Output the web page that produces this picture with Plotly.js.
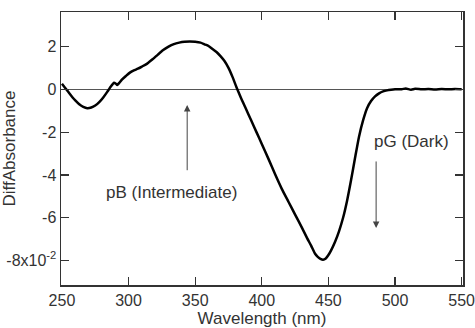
<!DOCTYPE html>
<html>
<head>
<meta charset="utf-8">
<script src="https://cdn.plot.ly/plotly-3.0.1.min.js"></script>
<style>html,body{margin:0;padding:0;background:#fff;}#chart{width:475px;height:328px;}</style>
</head>
<body>
<div id="chart"></div>
<script>
// Wavelength (nm)
const wavelength = [250,252,255,258,260,263,266,269,272,275,278,281,284,285.5,287,289,290.5,291.5,293,295,298,301,304,307,310,314,318,322,326,330,334,338,342,346,350,354,357,360,363,366,369,372,375,378,381,384,388,392,396,400,405,410,415,420,425,430,434,437,440,442,444,446,448,450,452,455,458,461,464,467,470,473,476,479,482,485,488,491,494,497,500,505,508,512,515,520,525,530,535,540,545,550];
// Difference absorbance (x10^-2)
const diffAbs = [0.26,0.1,-0.14,-0.38,-0.52,-0.7,-0.82,-0.88,-0.85,-0.76,-0.6,-0.38,-0.12,0.02,0.15,0.31,0.26,0.2,0.3,0.45,0.62,0.78,0.88,0.96,1.06,1.2,1.4,1.62,1.83,1.99,2.11,2.18,2.22,2.23,2.22,2.18,2.1,2.02,1.88,1.74,1.55,1.32,1.0,0.58,0.1,-0.35,-0.9,-1.45,-2.0,-2.55,-3.25,-3.97,-4.65,-5.25,-5.85,-6.45,-6.95,-7.3,-7.68,-7.83,-7.92,-7.96,-7.9,-7.74,-7.52,-7.12,-6.62,-6.0,-5.2,-4.24,-3.2,-2.2,-1.45,-0.88,-0.55,-0.33,-0.19,-0.1,-0.05,-0.02,0.0,0.0,0.04,-0.02,0.02,0.0,0.01,-0.01,0.01,0.0,0.01,0.0];

const xTickVals = [250,300,350,400,450,500,550];
const yTickVals = [2,0,-2,-4,-6,-8];
const yTickText = ['2','0','-2','-4','-6','-8x10<sup>-2</sup>'];

const labelB = 'pB (Intermediate)';
const labelG = 'pG (Dark)';

const trace = {
  x: wavelength, y: diffAbs, type: 'scatter', mode: 'lines',
  line: {color: '#000', width: 2.5, shape: 'spline', smoothing: 0.6},
  hoverinfo: 'skip'
};

const fontFam = 'Liberation Sans, Arial, sans-serif';
const layout = {
  width: 475, height: 328,
  margin: {l: 61, r: 12, t: 12, b: 43},
  paper_bgcolor: '#fff', plot_bgcolor: '#fff',
  showlegend: false,
  font: {family: fontFam, color: '#333', size: 16},
  xaxis: {
    range: [249.3, 551], tickvals: xTickVals, ticks: 'inside', ticklen: 8, tickwidth: 1.2, tickcolor: '#333',
    showline: true, linecolor: '#333', linewidth: 1.5, mirror: 'ticks', showgrid: false, zeroline: false,
    ticklabeloverflow: 'allow',
    tickfont: {size: 16, color: '#333'},
    title: {text: 'Wavelength (nm)', font: {size: 17, color: '#333'}, standoff: 4}
  },
  yaxis: {
    range: [-9.14, 3.61], tickvals: yTickVals, ticktext: yTickText, ticks: 'inside', ticklen: 8, tickwidth: 1.2, tickcolor: '#333',
    showline: true, linecolor: '#333', linewidth: 1.5, mirror: 'ticks', showgrid: false,
    zeroline: true, zerolinecolor: '#555', zerolinewidth: 1,
    ticklabeloverflow: 'allow',
    tickfont: {size: 16, color: '#333'},
    title: {text: 'DiffAbsorbance', font: {size: 17, color: '#333'}, standoff: 6}
  },
  annotations: [
    {x: 344, y: -0.73, ax: 344, ay: -3.85, xref: 'x', yref: 'y', axref: 'x', ayref: 'y', text: '', showarrow: true, arrowhead: 2, arrowsize: 1.3, arrowwidth: 1, arrowcolor: '#444'},
    {x: 332, y: -4.8, xref: 'x', yref: 'y', text: labelB, showarrow: false, font: {size: 17, color: '#333'}},
    {x: 485.8, y: -6.48, ax: 485.8, ay: -3.3, xref: 'x', yref: 'y', axref: 'x', ayref: 'y', text: '', showarrow: true, arrowhead: 2, arrowsize: 1.3, arrowwidth: 1, arrowcolor: '#444'},
    {x: 512.7, y: -2.46, xref: 'x', yref: 'y', text: labelG, showarrow: false, font: {size: 17, color: '#333'}}
  ]
};

Plotly.newPlot('chart', [trace], layout, {displayModeBar: false, staticPlot: true});
</script>
</body>
</html>
